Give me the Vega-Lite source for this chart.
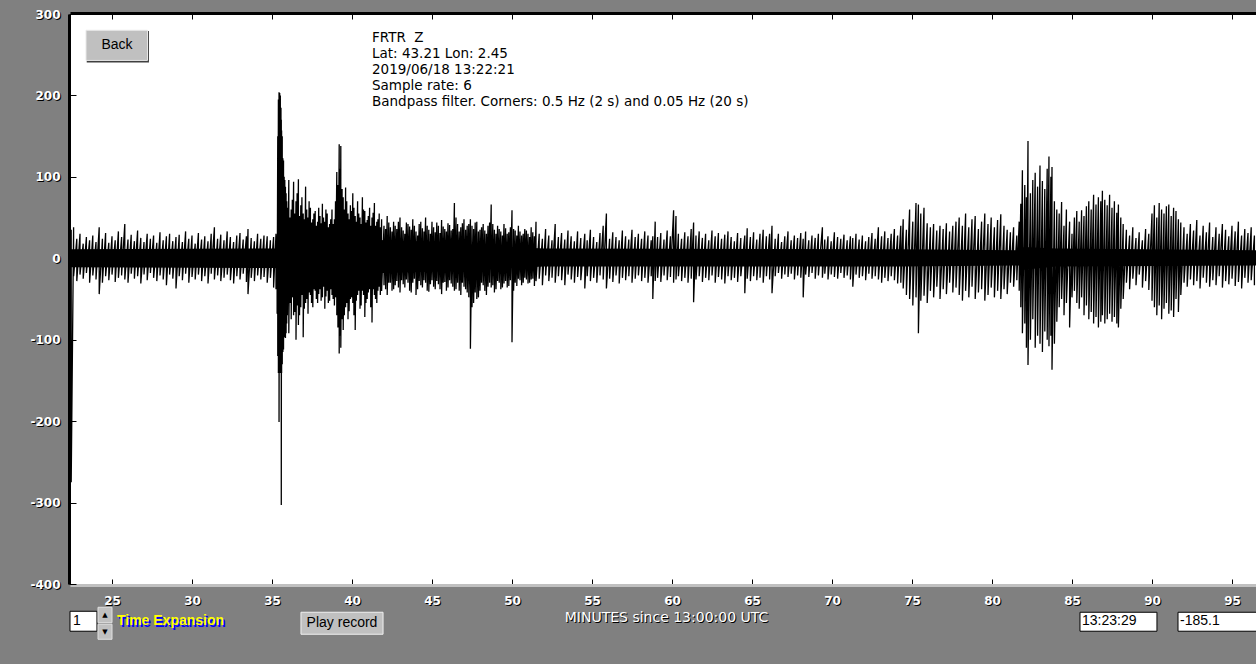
{
"$schema": "https://vega.github.io/schema/vega-lite/v6.json",
"width": 1186, "height": 570,
"autosize": {"type": "none"},
"padding": {"left": 70, "top": 14, "right": 0, "bottom": 80},
"background": "#808080",
"config": {"view": {"fill": "#ffffff", "stroke": null}, "text": {"font": "Liberation Sans"}},
"resolve": {"axis": {"x": "independent", "y": "independent"}},
"datasets": {
"core": [
{"t":22.4,"ch":11,"cl":-11},{"t":35.3,"ch":12,"cl":-12},{"t":35.36,"ch":50,"cl":-50},{"t":36.0,"ch":42,"cl":-40},{"t":37.0,"ch":36,"cl":-31},{"t":38.0,"ch":32,"cl":-27},{"t":39.0,"ch":30,"cl":-25},{"t":40.0,"ch":27,"cl":-22},{"t":41.0,"ch":24,"cl":-19},{"t":42.0,"ch":22,"cl":-18},{"t":46.0,"ch":20,"cl":-16},{"t":48.0,"ch":16,"cl":-14},{"t":50.0,"ch":14,"cl":-12},{"t":52.0,"ch":12,"cl":-10},{"t":74.2,"ch":11,"cl":-10},{"t":81.7,"ch":10,"cl":-9},{"t":82.0,"ch":14,"cl":-14},{"t":84.0,"ch":12,"cl":-10},{"t":96.5,"ch":10,"cl":-9}
],
"trace": [
{"t":22.45,"h":35,"l":-275},{"t":22.6,"h":38,"l":-22},{"t":22.8,"h":24,"l":-28},{"t":23.0,"h":30,"l":-20},{"t":23.2,"h":18,"l":-25},{"t":23.4,"h":26,"l":-18},{"t":23.6,"h":22,"l":-30},{"t":23.8,"h":28,"l":-21},{"t":24.0,"h":20,"l":-26},{"t":24.2,"h":38,"l":-44},{"t":24.4,"h":24,"l":-30},{"t":24.6,"h":31,"l":-22},{"t":24.8,"h":19,"l":-27},{"t":25.0,"h":27,"l":-20},{"t":25.2,"h":22,"l":-29},{"t":25.4,"h":33,"l":-24},{"t":25.6,"h":26,"l":-21},{"t":25.8,"h":42,"l":-26},{"t":26.0,"h":23,"l":-30},{"t":26.2,"h":29,"l":-19},{"t":26.4,"h":21,"l":-25},{"t":26.6,"h":34,"l":-22},{"t":26.8,"h":25,"l":-31},{"t":27.0,"h":20,"l":-20},{"t":27.2,"h":30,"l":-27},{"t":27.4,"h":24,"l":-18},{"t":27.6,"h":28,"l":-24},{"t":27.8,"h":19,"l":-28},{"t":28.0,"h":32,"l":-21},{"t":28.2,"h":22,"l":-26},{"t":28.4,"h":27,"l":-33},{"t":28.6,"h":30,"l":-20},{"t":28.8,"h":21,"l":-25},{"t":29.0,"h":26,"l":-37},{"t":29.2,"h":29,"l":-22},{"t":29.4,"h":20,"l":-27},{"t":29.6,"h":33,"l":-19},{"t":29.8,"h":24,"l":-30},{"t":30.0,"h":28,"l":-23},{"t":30.2,"h":18,"l":-26},{"t":30.4,"h":31,"l":-20},{"t":30.6,"h":23,"l":-28},{"t":30.8,"h":27,"l":-22},{"t":31.0,"h":21,"l":-31},{"t":31.2,"h":30,"l":-19},{"t":31.4,"h":38,"l":-26},{"t":31.6,"h":24,"l":-21},{"t":31.8,"h":29,"l":-28},{"t":32.0,"h":22,"l":-24},{"t":32.2,"h":33,"l":-20},{"t":32.4,"h":26,"l":-27},{"t":32.6,"h":20,"l":-31},{"t":32.8,"h":28,"l":-22},{"t":33.0,"h":31,"l":-26},{"t":33.2,"h":23,"l":-19},{"t":33.4,"h":27,"l":-29},{"t":33.5,"h":36,"l":-44},{"t":33.7,"h":25,"l":-24},{"t":33.9,"h":21,"l":-28},{"t":34.1,"h":30,"l":-21},{"t":34.3,"h":24,"l":-26},{"t":34.5,"h":28,"l":-23},{"t":34.7,"h":27,"l":-30},{"t":34.9,"h":22,"l":-24},{"t":35.1,"h":26,"l":-36},{"t":35.25,"h":30,"l":-38},{"t":35.32,"h":28,"l":-68},
{"t":35.36,"h":150,"l":-120},{"t":35.4,"h":195,"l":-141},{"t":35.44,"h":204,"l":-201},{"t":35.48,"h":203,"l":-141},{"t":35.52,"h":200,"l":-138},{"t":35.56,"h":185,"l":-141},{"t":35.58,"h":170,"l":-303},{"t":35.6,"h":157,"l":-141},{"t":35.64,"h":150,"l":-130},{"t":35.68,"h":123,"l":-115},{"t":35.72,"h":120,"l":-112},{"t":35.76,"h":100,"l":-97},{"t":35.8,"h":96,"l":-90},{"t":35.84,"h":88,"l":-98},{"t":35.88,"h":80,"l":-92},{"t":35.92,"h":70,"l":-80},{"t":35.96,"h":62,"l":-70},
{"t":36.05,"h":96,"l":-92},{"t":36.12,"h":50,"l":-55},{"t":36.2,"h":60,"l":-75},{"t":36.27,"h":72,"l":-48},{"t":36.35,"h":94,"l":-70},{"t":36.42,"h":55,"l":-66},{"t":36.5,"h":70,"l":-100},{"t":36.57,"h":80,"l":-58},{"t":36.65,"h":97,"l":-82},{"t":36.72,"h":52,"l":-70},{"t":36.8,"h":65,"l":-60},{"t":36.87,"h":75,"l":-45},{"t":36.95,"h":55,"l":-97},{"t":37.02,"h":48,"l":-62},{"t":37.1,"h":88,"l":-55},{"t":37.17,"h":60,"l":-50},{"t":37.25,"h":50,"l":-68},{"t":37.32,"h":70,"l":-42},{"t":37.4,"h":62,"l":-45},{"t":37.47,"h":44,"l":-55},{"t":37.55,"h":48,"l":-60},{"t":37.62,"h":55,"l":-38},{"t":37.7,"h":58,"l":-40},{"t":37.77,"h":40,"l":-50},{"t":37.85,"h":45,"l":-55},{"t":37.92,"h":62,"l":-44},{"t":38.0,"h":52,"l":-38},{"t":38.07,"h":43,"l":-52},{"t":38.15,"h":67,"l":-48},{"t":38.22,"h":50,"l":-35},{"t":38.3,"h":45,"l":-62},{"t":38.37,"h":60,"l":-47},{"t":38.45,"h":55,"l":-40},{"t":38.52,"h":38,"l":-55},{"t":38.6,"h":42,"l":-52},{"t":38.67,"h":48,"l":-38},{"t":38.75,"h":60,"l":-45},{"t":38.82,"h":42,"l":-50},{"t":38.9,"h":48,"l":-58},{"t":38.97,"h":70,"l":-48},{"t":39.05,"h":106,"l":-70},{"t":39.12,"h":90,"l":-85},{"t":39.2,"h":140,"l":-117},{"t":39.25,"h":110,"l":-95},{"t":39.3,"h":138,"l":-110},{"t":39.38,"h":85,"l":-75},{"t":39.45,"h":75,"l":-88},{"t":39.52,"h":60,"l":-70},{"t":39.6,"h":87,"l":-60},{"t":39.67,"h":70,"l":-55},{"t":39.75,"h":55,"l":-75},{"t":39.82,"h":48,"l":-65},{"t":39.9,"h":65,"l":-50},{"t":39.97,"h":58,"l":-48},{"t":40.05,"h":80,"l":-55},{"t":40.12,"h":62,"l":-70},{"t":40.2,"h":52,"l":-88},{"t":40.27,"h":45,"l":-52},{"t":40.35,"h":70,"l":-45},{"t":40.42,"h":55,"l":-40},{"t":40.5,"h":50,"l":-62},{"t":40.57,"h":42,"l":-58},{"t":40.65,"h":75,"l":-40},{"t":40.72,"h":60,"l":-45},{"t":40.8,"h":58,"l":-72},{"t":40.87,"h":44,"l":-55},{"t":40.95,"h":47,"l":-50},{"t":41.02,"h":52,"l":-42},{"t":41.1,"h":62,"l":-38},{"t":41.17,"h":40,"l":-60},{"t":41.25,"h":50,"l":-79},{"t":41.32,"h":56,"l":-38},{"t":41.4,"h":68,"l":-45},{"t":41.47,"h":40,"l":-50},{"t":41.55,"h":45,"l":-55},{"t":41.62,"h":48,"l":-40},{"t":41.7,"h":55,"l":-35},{"t":41.77,"h":38,"l":-45},
{"t":41.85,"h":48,"l":-40},{"t":42.0,"h":40,"l":-33},{"t":42.1,"h":36,"l":-38},{"t":42.2,"h":52,"l":-45},{"t":42.3,"h":44,"l":-30},{"t":42.4,"h":38,"l":-30},{"t":42.5,"h":33,"l":-40},{"t":42.6,"h":45,"l":-38},{"t":42.7,"h":40,"l":-33},{"t":42.8,"h":36,"l":-28},{"t":42.9,"h":45,"l":-36},{"t":43.0,"h":50,"l":-42},{"t":43.1,"h":38,"l":-27},{"t":43.2,"h":34,"l":-32},{"t":43.3,"h":30,"l":-36},{"t":43.4,"h":44,"l":-26},{"t":43.5,"h":42,"l":-30},{"t":43.6,"h":39,"l":-40},{"t":43.7,"h":35,"l":-42},{"t":43.8,"h":48,"l":-30},{"t":43.9,"h":40,"l":-25},{"t":44.0,"h":33,"l":-45},{"t":44.1,"h":28,"l":-38},{"t":44.2,"h":42,"l":-28},{"t":44.3,"h":45,"l":-33},{"t":44.4,"h":37,"l":-36},{"t":44.5,"h":33,"l":-27},{"t":44.6,"h":50,"l":-30},{"t":44.7,"h":40,"l":-40},{"t":44.8,"h":35,"l":-41},{"t":44.9,"h":30,"l":-32},{"t":45.0,"h":45,"l":-27},{"t":45.1,"h":38,"l":-35},{"t":45.2,"h":32,"l":-38},{"t":45.3,"h":44,"l":-28},{"t":45.4,"h":40,"l":-32},{"t":45.5,"h":31,"l":-38},{"t":45.6,"h":47,"l":-44},{"t":45.7,"h":39,"l":-30},{"t":45.8,"h":36,"l":-29},{"t":45.9,"h":33,"l":-40},{"t":46.0,"h":43,"l":-36},{"t":46.1,"h":41,"l":-27},{"t":46.2,"h":34,"l":-31},{"t":46.3,"h":36,"l":-35},{"t":46.4,"h":68,"l":-40},{"t":46.5,"h":50,"l":-38},{"t":46.6,"h":42,"l":-30},{"t":46.7,"h":33,"l":-40},{"t":46.8,"h":38,"l":-45},{"t":46.9,"h":43,"l":-30},{"t":47.0,"h":48,"l":-35},{"t":47.1,"h":35,"l":-38},{"t":47.2,"h":40,"l":-42},{"t":47.3,"h":42,"l":-48},{"t":47.4,"h":48,"l":-111},{"t":47.5,"h":40,"l":-60},{"t":47.6,"h":36,"l":-55},{"t":47.7,"h":44,"l":-42},{"t":47.8,"h":45,"l":-50},{"t":47.9,"h":33,"l":-48},{"t":48.0,"h":35,"l":-40},{"t":48.1,"h":38,"l":-30},{"t":48.2,"h":42,"l":-33},{"t":48.3,"h":34,"l":-40},{"t":48.4,"h":30,"l":-45},{"t":48.5,"h":40,"l":-35},{"t":48.6,"h":44,"l":-30},{"t":48.7,"h":66,"l":-36},{"t":48.8,"h":42,"l":-33},{"t":48.9,"h":35,"l":-42},{"t":49.0,"h":30,"l":-38},{"t":49.1,"h":40,"l":-28},{"t":49.2,"h":36,"l":-30},{"t":49.3,"h":33,"l":-38},{"t":49.4,"h":28,"l":-36},{"t":49.5,"h":42,"l":-31},{"t":49.6,"h":37,"l":-28},{"t":49.7,"h":30,"l":-36},{"t":49.8,"h":32,"l":-34},{"t":49.9,"h":38,"l":-27},{"t":50.0,"h":59,"l":-103},{"t":50.1,"h":36,"l":-40},{"t":50.2,"h":34,"l":-30},{"t":50.3,"h":28,"l":-34},{"t":50.4,"h":40,"l":-25},{"t":50.5,"h":33,"l":-27},{"t":50.6,"h":28,"l":-33},{"t":50.7,"h":30,"l":-30},{"t":50.8,"h":36,"l":-24},{"t":50.9,"h":34,"l":-26},{"t":51.0,"h":30,"l":-31},{"t":51.1,"h":26,"l":-30},{"t":51.2,"h":38,"l":-26},{"t":51.3,"h":32,"l":-25},{"t":51.4,"h":27,"l":-34},{"t":51.5,"h":45,"l":-28},
{"t":51.7,"h":30,"l":-25},{"t":51.9,"h":24,"l":-33},{"t":52.1,"h":36,"l":-21},{"t":52.3,"h":28,"l":-28},{"t":52.5,"h":22,"l":-24},{"t":52.7,"h":42,"l":-30},{"t":52.9,"h":26,"l":-22},{"t":53.1,"h":31,"l":-27},{"t":53.3,"h":23,"l":-33},{"t":53.5,"h":34,"l":-20},{"t":53.7,"h":27,"l":-26},{"t":53.9,"h":21,"l":-30},{"t":54.1,"h":33,"l":-23},{"t":54.3,"h":25,"l":-27},{"t":54.55,"h":30,"l":-37},{"t":54.7,"h":22,"l":-22},{"t":54.9,"h":35,"l":-28},{"t":55.1,"h":26,"l":-24},{"t":55.3,"h":20,"l":-30},{"t":55.5,"h":31,"l":-21},{"t":55.7,"h":40,"l":-26},{"t":55.9,"h":55,"l":-37},{"t":56.1,"h":24,"l":-25},{"t":56.3,"h":32,"l":-29},{"t":56.5,"h":26,"l":-21},{"t":56.7,"h":22,"l":-31},{"t":56.9,"h":34,"l":-24},{"t":57.1,"h":27,"l":-27},{"t":57.3,"h":23,"l":-22},{"t":57.5,"h":35,"l":-30},{"t":57.7,"h":26,"l":-25},{"t":57.9,"h":30,"l":-21},{"t":58.1,"h":24,"l":-28},{"t":58.3,"h":33,"l":-24},{"t":58.5,"h":28,"l":-30},{"t":58.7,"h":22,"l":-22},{"t":58.8,"h":27,"l":-50},{"t":58.95,"h":45,"l":-28},{"t":59.1,"h":26,"l":-24},{"t":59.3,"h":31,"l":-29},{"t":59.5,"h":23,"l":-21},{"t":59.7,"h":34,"l":-27},{"t":59.9,"h":27,"l":-23},{"t":60.1,"h":59,"l":-30},{"t":60.25,"h":52,"l":-26},{"t":60.4,"h":30,"l":-22},{"t":60.6,"h":24,"l":-28},{"t":60.8,"h":32,"l":-24},{"t":61.0,"h":27,"l":-30},{"t":61.2,"h":36,"l":-25},{"t":61.35,"h":44,"l":-54},{"t":61.5,"h":28,"l":-26},{"t":61.7,"h":33,"l":-22},{"t":61.9,"h":25,"l":-29},{"t":62.1,"h":30,"l":-24},{"t":62.3,"h":22,"l":-27},{"t":62.5,"h":34,"l":-21},{"t":62.7,"h":27,"l":-30},{"t":62.9,"h":31,"l":-23},{"t":63.1,"h":24,"l":-26},{"t":63.3,"h":29,"l":-31},{"t":63.5,"h":33,"l":-22},{"t":63.7,"h":26,"l":-27},{"t":63.9,"h":21,"l":-24},{"t":64.1,"h":31,"l":-29},{"t":64.3,"h":25,"l":-22},{"t":64.55,"h":28,"l":-43},{"t":64.7,"h":37,"l":-25},{"t":64.9,"h":26,"l":-28},{"t":65.1,"h":32,"l":-22},{"t":65.3,"h":23,"l":-27},{"t":65.5,"h":30,"l":-24},{"t":65.7,"h":35,"l":-30},{"t":65.9,"h":27,"l":-22},{"t":66.1,"h":30,"l":-26},{"t":66.25,"h":40,"l":-43},
{"t":66.45,"h":24,"l":-22},{"t":66.65,"h":30,"l":-18},{"t":66.85,"h":20,"l":-25},{"t":67.05,"h":27,"l":-20},{"t":67.25,"h":33,"l":-23},{"t":67.45,"h":22,"l":-19},{"t":67.65,"h":28,"l":-26},{"t":67.85,"h":25,"l":-21},{"t":68.05,"h":31,"l":-24},{"t":68.2,"h":24,"l":-48},{"t":68.35,"h":33,"l":-20},{"t":68.55,"h":22,"l":-23},{"t":68.75,"h":28,"l":-18},{"t":68.95,"h":25,"l":-25},{"t":69.15,"h":30,"l":-21},{"t":69.4,"h":38,"l":-24},{"t":69.55,"h":23,"l":-19},{"t":69.75,"h":27,"l":-26},{"t":69.95,"h":21,"l":-20},{"t":70.15,"h":32,"l":-23},{"t":70.35,"h":26,"l":-25},{"t":70.55,"h":24,"l":-18},{"t":70.75,"h":29,"l":-24},{"t":70.95,"h":22,"l":-21},{"t":71.15,"h":27,"l":-26},{"t":71.3,"h":25,"l":-35},{"t":71.5,"h":30,"l":-20},{"t":71.7,"h":23,"l":-24},{"t":71.9,"h":28,"l":-22},{"t":72.1,"h":21,"l":-27},{"t":72.3,"h":26,"l":-19},{"t":72.5,"h":31,"l":-25},{"t":72.7,"h":24,"l":-22},{"t":72.9,"h":38,"l":-26},{"t":73.1,"h":27,"l":-30},{"t":73.3,"h":33,"l":-24},{"t":73.5,"h":25,"l":-28},{"t":73.7,"h":30,"l":-22},{"t":73.9,"h":36,"l":-27},{"t":74.1,"h":28,"l":-31},
{"t":74.3,"h":40,"l":-30},{"t":74.45,"h":48,"l":-37},{"t":74.65,"h":35,"l":-45},{"t":74.85,"h":60,"l":-50},{"t":75.05,"h":45,"l":-58},{"t":75.25,"h":68,"l":-48},{"t":75.4,"h":66,"l":-92},{"t":75.55,"h":55,"l":-52},{"t":75.75,"h":62,"l":-46},{"t":75.95,"h":43,"l":-55},{"t":76.15,"h":38,"l":-40},{"t":76.35,"h":42,"l":-48},{"t":76.55,"h":34,"l":-35},{"t":76.75,"h":40,"l":-50},{"t":76.95,"h":36,"l":-38},{"t":77.15,"h":43,"l":-44},{"t":77.35,"h":33,"l":-30},{"t":77.55,"h":40,"l":-42},{"t":77.75,"h":45,"l":-36},{"t":77.95,"h":50,"l":-45},{"t":78.15,"h":40,"l":-52},{"t":78.35,"h":55,"l":-40},{"t":78.55,"h":38,"l":-48},{"t":78.75,"h":48,"l":-35},{"t":78.95,"h":52,"l":-50},{"t":79.15,"h":36,"l":-42},{"t":79.35,"h":45,"l":-38},{"t":79.55,"h":55,"l":-52},{"t":79.75,"h":42,"l":-45},{"t":79.95,"h":50,"l":-36},{"t":80.15,"h":38,"l":-48},{"t":80.35,"h":47,"l":-40},{"t":80.55,"h":54,"l":-50},{"t":80.75,"h":40,"l":-38},{"t":80.95,"h":35,"l":-44},{"t":81.15,"h":32,"l":-30},{"t":81.35,"h":38,"l":-35},{"t":81.55,"h":28,"l":-27},{"t":81.7,"h":45,"l":-40},
{"t":81.8,"h":67,"l":-60},{"t":81.9,"h":108,"l":-92},{"t":82.05,"h":90,"l":-80},{"t":82.15,"h":75,"l":-110},{"t":82.25,"h":144,"l":-131},{"t":82.4,"h":80,"l":-100},{"t":82.55,"h":96,"l":-75},{"t":82.7,"h":105,"l":-110},{"t":82.85,"h":88,"l":-95},{"t":83.0,"h":114,"l":-105},{"t":83.15,"h":95,"l":-115},{"t":83.3,"h":85,"l":-90},{"t":83.45,"h":110,"l":-100},{"t":83.56,"h":125,"l":-108},{"t":83.68,"h":100,"l":-95},{"t":83.75,"h":112,"l":-137},{"t":83.9,"h":70,"l":-105},{"t":84.05,"h":60,"l":-78},
{"t":84.2,"h":55,"l":-60},{"t":84.35,"h":69,"l":-50},{"t":84.5,"h":40,"l":-70},{"t":84.65,"h":60,"l":-55},{"t":84.85,"h":45,"l":-85},{"t":85.0,"h":30,"l":-48},{"t":85.15,"h":50,"l":-40},{"t":85.3,"h":58,"l":-55},{"t":85.45,"h":45,"l":-62},{"t":85.6,"h":59,"l":-48},{"t":85.75,"h":52,"l":-70},{"t":85.9,"h":64,"l":-58},{"t":86.05,"h":70,"l":-75},{"t":86.2,"h":60,"l":-66},{"t":86.35,"h":78,"l":-80},{"t":86.5,"h":66,"l":-72},{"t":86.65,"h":75,"l":-85},{"t":86.8,"h":70,"l":-78},{"t":86.9,"h":83,"l":-70},{"t":87.05,"h":72,"l":-80},{"t":87.2,"h":65,"l":-75},{"t":87.35,"h":78,"l":-68},{"t":87.5,"h":62,"l":-78},{"t":87.65,"h":70,"l":-72},{"t":87.8,"h":56,"l":-80},{"t":87.9,"h":66,"l":-85},{"t":88.05,"h":50,"l":-62},{"t":88.2,"h":42,"l":-50},
{"t":88.4,"h":35,"l":-30},{"t":88.6,"h":28,"l":-38},{"t":88.8,"h":38,"l":-25},{"t":89.0,"h":25,"l":-33},{"t":89.2,"h":32,"l":-20},{"t":89.4,"h":22,"l":-36},{"t":89.6,"h":36,"l":-28},{"t":89.8,"h":30,"l":-39},
{"t":90.0,"h":55,"l":-52},{"t":90.15,"h":65,"l":-60},{"t":90.3,"h":50,"l":-70},{"t":90.45,"h":68,"l":-58},{"t":90.6,"h":60,"l":-75},{"t":90.75,"h":55,"l":-62},{"t":90.9,"h":64,"l":-55},{"t":91.05,"h":66,"l":-68},{"t":91.2,"h":52,"l":-64},{"t":91.35,"h":62,"l":-72},{"t":91.5,"h":58,"l":-50},{"t":91.65,"h":48,"l":-66},{"t":91.8,"h":44,"l":-45},
{"t":92.0,"h":38,"l":-30},{"t":92.2,"h":30,"l":-35},{"t":92.4,"h":42,"l":-26},{"t":92.6,"h":34,"l":-33},{"t":92.8,"h":47,"l":-28},{"t":93.0,"h":28,"l":-37},{"t":93.2,"h":40,"l":-24},{"t":93.4,"h":32,"l":-30},{"t":93.6,"h":44,"l":-35},{"t":93.8,"h":26,"l":-27},{"t":94.0,"h":38,"l":-33},{"t":94.2,"h":30,"l":-22},{"t":94.4,"h":42,"l":-36},{"t":94.6,"h":35,"l":-28},{"t":94.8,"h":27,"l":-32},{"t":95.0,"h":40,"l":-25},{"t":95.2,"h":33,"l":-34},{"t":95.4,"h":45,"l":-29},{"t":95.6,"h":28,"l":-37},{"t":95.8,"h":36,"l":-24},{"t":96.0,"h":31,"l":-30},{"t":96.2,"h":38,"l":-27},{"t":96.4,"h":28,"l":-33}
]
},
"layer": [
{
"data": {"name": "core"},
"mark": {"type": "area", "color": "#000000", "opacity": 1},
"encoding": {
"x": {"field": "t", "type": "quantitative", "scale": {"domain": [22.375, 96.5], "nice": false, "zero": false},
 "axis": {"orient": "bottom", "offset": 1, "values": [25,30,35,40,45,50,55,60,65,70,75,80,85,90,95], "domain": false, "ticks": false, "grid": false, "labelColor": "#000000", "labelFont": "DejaVu Sans", "labelFontWeight": "bold", "labelFontSize": 12, "labelPadding": 11, "labelOffset": 1, "labelFlush": false, "labelOverlap": false, "labelBaseline": "top",
  "title": "MINUTES since 13:00:00 UTC", "titleColor": "#000000", "titleFont": "DejaVu Sans", "titleFontSize": 14, "titleFontWeight": "normal", "titleX": 597, "titleY": 33, "titleBaseline": "middle", "titleAlign": "center"}},
"y": {"field": "ch", "type": "quantitative", "scale": {"domain": [-400, 300], "nice": false, "zero": false},
 "axis": {"orient": "left", "offset": 1, "values": [-400,-300,-200,-100,0,100,200,300], "labelExpr": "'' + datum.value", "domain": false, "ticks": false, "grid": false, "labelColor": "#000000", "labelFont": "DejaVu Sans", "labelFontWeight": "bold", "labelFontSize": 12, "labelPadding": 8, "labelOffset": 1, "labelFlush": false, "labelOverlap": false, "title": null}},
"y2": {"field": "cl"}
}
},
{
"data": {"name": "trace"},
"transform": [{"fold": ["h", "l"], "as": ["k", "v"]}],
"mark": {"type": "line", "color": "#000000", "strokeWidth": 1.3, "interpolate": "linear"},
"encoding": {
"x": {"field": "t", "type": "quantitative", "scale": {"domain": [22.375, 96.5], "nice": false, "zero": false},
 "axis": {"orient": "bottom", "offset": 1, "values": [25,30,35,40,45,50,55,60,65,70,75,80,85,90,95], "domain": true, "domainColor": "#c0c0c0", "domainWidth": 3, "ticks": true, "tickSize": -6, "tickColor": "#000000", "tickWidth": 1, "grid": false, "labelColor": "#ffffff", "labelFont": "DejaVu Sans", "labelFontWeight": "bold", "labelFontSize": 12, "labelPadding": 16, "labelFlush": false, "labelOverlap": false, "labelBaseline": "top",
  "title": "MINUTES since 13:00:00 UTC", "titleColor": "#ffffff", "titleFont": "DejaVu Sans", "titleFontSize": 14, "titleFontWeight": "normal", "titleX": 596, "titleY": 32, "titleBaseline": "middle", "titleAlign": "center"}},
"y": {"field": "v", "type": "quantitative", "scale": {"domain": [-400, 300], "nice": false, "zero": false},
 "axis": {"orient": "left", "offset": 1, "values": [-400,-300,-200,-100,0,100,200,300], "labelExpr": "'' + datum.value", "domain": true, "domainColor": "#000000", "domainWidth": 3, "ticks": true, "tickSize": -7, "tickColor": "#000000", "tickWidth": 1, "grid": false, "labelColor": "#ffffff", "labelFont": "DejaVu Sans", "labelFontWeight": "bold", "labelFontSize": 12, "labelPadding": 16, "labelFlush": false, "labelOverlap": false, "title": null}}
}
},
{
"data": {"values": [{}]},
"mark": {"type": "text", "align": "left", "baseline": "middle", "fontSize": 13.5, "lineHeight": 16, "color": "#000000", "font": "DejaVu Sans"},
"encoding": {
"x": {"datum": 41.25, "type": "quantitative", "scale": {"domain": [22.375, 96.5], "nice": false, "zero": false},
 "axis": {"orient": "top", "offset": 1, "values": [25,30,35,40,45,50,55,60,65,70,75,80,85,90,95], "labels": false, "domain": true, "domainColor": "#000000", "domainWidth": 3, "ticks": true, "tickSize": -6, "tickColor": "#000000", "grid": false, "title": null}},
"y": {"datum": 270.2, "type": "quantitative", "scale": {"domain": [-400, 300], "nice": false, "zero": false}, "axis": null},
"text": {"value": ["FRTR\u00a0\u00a0Z", "Lat: 43.21 Lon: 2.45", "2019/06/18 13:22:21", "Sample rate: 6", "Bandpass filter. Corners: 0.5 Hz (2 s) and 0.05 Hz (20 s)"]}
}
},
{
"data": {"values": [{}]},
"mark": {"type": "rect", "fill": "#404040"},
"encoding": {
"x": {"datum": 23.42, "type": "quantitative", "scale": {"domain": [22.375, 96.5], "nice": false, "zero": false}, "axis": null},
"x2": {"datum": 27.31},
"y": {"datum": 279, "type": "quantitative", "scale": {"domain": [-400, 300], "nice": false, "zero": false}, "axis": null},
"y2": {"datum": 240.5}
}
},
{
"data": {"values": [{}]},
"mark": {"type": "rect", "fill": "#c0c0c0", "stroke": "#e8e8e8", "strokeWidth": 1},
"encoding": {
"x": {"datum": 23.375, "type": "quantitative", "scale": {"domain": [22.375, 96.5], "nice": false, "zero": false}, "axis": null},
"x2": {"datum": 27.22},
"y": {"datum": 280, "type": "quantitative", "scale": {"domain": [-400, 300], "nice": false, "zero": false}, "axis": null},
"y2": {"datum": 243}
}
},
{
"data": {"values": [{}]},
"mark": {"type": "text", "align": "center", "baseline": "middle", "fontSize": 14, "color": "#000000", "font": "Liberation Sans"},
"encoding": {
"x": {"datum": 25.31, "type": "quantitative", "scale": {"domain": [22.375, 96.5], "nice": false, "zero": false}, "axis": null},
"y": {"datum": 261.6, "type": "quantitative", "scale": {"domain": [-400, 300], "nice": false, "zero": false}, "axis": null},
"text": {"value": "Back"}
}
},
{
"data": {"values": [{}]},
"mark": {"type": "rect", "fill": "#ffffff", "stroke": "#000000", "strokeWidth": 1},
"encoding": {
"x": {"datum": 22.375, "type": "quantitative", "scale": {"domain": [22.375, 96.5], "nice": false, "zero": false}, "axis": null},
"x2": {"datum": 24.06},
"y": {"datum": -433.5, "type": "quantitative", "scale": {"domain": [-400, 300], "nice": false, "zero": false}, "axis": null},
"y2": {"datum": -458}
}
},
{
"data": {"values": [{}]},
"mark": {"type": "text", "align": "left", "baseline": "middle", "fontSize": 14, "color": "#000000", "font": "Liberation Sans"},
"encoding": {
"x": {"datum": 22.56, "type": "quantitative", "scale": {"domain": [22.375, 96.5], "nice": false, "zero": false}, "axis": null},
"y": {"datum": -445.8, "type": "quantitative", "scale": {"domain": [-400, 300], "nice": false, "zero": false}, "axis": null},
"text": {"value": "1"}
}
},
{
"data": {"values": [{}]},
"mark": {"type": "rect", "fill": "#c0c0c0", "stroke": "#e0e0e0", "strokeWidth": 1},
"encoding": {
"x": {"datum": 24.125, "type": "quantitative", "scale": {"domain": [22.375, 96.5], "nice": false, "zero": false}, "axis": null},
"x2": {"datum": 25.0},
"y": {"datum": -428.6, "type": "quantitative", "scale": {"domain": [-400, 300], "nice": false, "zero": false}, "axis": null},
"y2": {"datum": -447.5}
}
},
{
"data": {"values": [{}]},
"mark": {"type": "rect", "fill": "#c0c0c0", "stroke": "#e0e0e0", "strokeWidth": 1},
"encoding": {
"x": {"datum": 24.125, "type": "quantitative", "scale": {"domain": [22.375, 96.5], "nice": false, "zero": false}, "axis": null},
"x2": {"datum": 25.0},
"y": {"datum": -449.4, "type": "quantitative", "scale": {"domain": [-400, 300], "nice": false, "zero": false}, "axis": null},
"y2": {"datum": -467.9}
}
},
{
"data": {"values": [{}]},
"mark": {"type": "text", "align": "center", "baseline": "middle", "fontSize": 7, "color": "#000000", "font": "DejaVu Sans"},
"encoding": {
"x": {"datum": 24.56, "type": "quantitative", "scale": {"domain": [22.375, 96.5], "nice": false, "zero": false}, "axis": null},
"y": {"datum": -438, "type": "quantitative", "scale": {"domain": [-400, 300], "nice": false, "zero": false}, "axis": null},
"text": {"value": "▲"}
}
},
{
"data": {"values": [{}]},
"mark": {"type": "text", "align": "center", "baseline": "middle", "fontSize": 7, "color": "#000000", "font": "DejaVu Sans"},
"encoding": {
"x": {"datum": 24.56, "type": "quantitative", "scale": {"domain": [22.375, 96.5], "nice": false, "zero": false}, "axis": null},
"y": {"datum": -458.6, "type": "quantitative", "scale": {"domain": [-400, 300], "nice": false, "zero": false}, "axis": null},
"text": {"value": "▼"}
}
},
{
"data": {"values": [{}]},
"mark": {"type": "text", "align": "left", "baseline": "middle", "fontSize": 14, "fontWeight": "bold", "color": "#0000ff", "font": "Liberation Sans"},
"encoding": {
"x": {"datum": 25.42, "type": "quantitative", "scale": {"domain": [22.375, 96.5], "nice": false, "zero": false}, "axis": null},
"y": {"datum": -448.3, "type": "quantitative", "scale": {"domain": [-400, 300], "nice": false, "zero": false}, "axis": null},
"text": {"value": "Time Expansion"}
}
},
{
"data": {"values": [{}]},
"mark": {"type": "text", "align": "left", "baseline": "middle", "fontSize": 14, "fontWeight": "bold", "color": "#ffff00", "font": "Liberation Sans"},
"encoding": {
"x": {"datum": 25.31, "type": "quantitative", "scale": {"domain": [22.375, 96.5], "nice": false, "zero": false}, "axis": null},
"y": {"datum": -445.4, "type": "quantitative", "scale": {"domain": [-400, 300], "nice": false, "zero": false}, "axis": null},
"text": {"value": "Time Expansion"}
}
},
{
"data": {"values": [{}]},
"mark": {"type": "rect", "fill": "#c0c0c0", "stroke": "#f0f0f0", "strokeWidth": 1},
"encoding": {
"x": {"datum": 36.81, "type": "quantitative", "scale": {"domain": [22.375, 96.5], "nice": false, "zero": false}, "axis": null},
"x2": {"datum": 41.94},
"y": {"datum": -434.7, "type": "quantitative", "scale": {"domain": [-400, 300], "nice": false, "zero": false}, "axis": null},
"y2": {"datum": -461.7}
}
},
{
"data": {"values": [{}]},
"mark": {"type": "text", "align": "center", "baseline": "middle", "fontSize": 14, "color": "#000000", "font": "Liberation Sans"},
"encoding": {
"x": {"datum": 39.375, "type": "quantitative", "scale": {"domain": [22.375, 96.5], "nice": false, "zero": false}, "axis": null},
"y": {"datum": -448.2, "type": "quantitative", "scale": {"domain": [-400, 300], "nice": false, "zero": false}, "axis": null},
"text": {"value": "Play record"}
}
},
{
"data": {"values": [{}]},
"mark": {"type": "rect", "fill": "#ffffff", "stroke": "#000000", "strokeWidth": 1},
"encoding": {
"x": {"datum": 85.5, "type": "quantitative", "scale": {"domain": [22.375, 96.5], "nice": false, "zero": false}, "axis": null},
"x2": {"datum": 90.31},
"y": {"datum": -434.7, "type": "quantitative", "scale": {"domain": [-400, 300], "nice": false, "zero": false}, "axis": null},
"y2": {"datum": -458}
}
},
{
"data": {"values": [{}]},
"mark": {"type": "text", "align": "left", "baseline": "middle", "fontSize": 14, "color": "#000000", "font": "Liberation Sans"},
"encoding": {
"x": {"datum": 85.625, "type": "quantitative", "scale": {"domain": [22.375, 96.5], "nice": false, "zero": false}, "axis": null},
"y": {"datum": -445.8, "type": "quantitative", "scale": {"domain": [-400, 300], "nice": false, "zero": false}, "axis": null},
"text": {"value": "13:23:29"}
}
},
{
"data": {"values": [{}]},
"mark": {"type": "rect", "fill": "#ffffff", "stroke": "#000000", "strokeWidth": 1},
"encoding": {
"x": {"datum": 91.625, "type": "quantitative", "scale": {"domain": [22.375, 96.5], "nice": false, "zero": false}, "axis": null},
"x2": {"datum": 96.6},
"y": {"datum": -434.7, "type": "quantitative", "scale": {"domain": [-400, 300], "nice": false, "zero": false}, "axis": null},
"y2": {"datum": -458}
}
},
{
"data": {"values": [{}]},
"mark": {"type": "text", "align": "left", "baseline": "middle", "fontSize": 14, "color": "#000000", "font": "Liberation Sans"},
"encoding": {
"x": {"datum": 91.75, "type": "quantitative", "scale": {"domain": [22.375, 96.5], "nice": false, "zero": false}, "axis": null},
"y": {"datum": -445.8, "type": "quantitative", "scale": {"domain": [-400, 300], "nice": false, "zero": false}, "axis": null},
"text": {"value": "-185.1"}
}
}
]
}
